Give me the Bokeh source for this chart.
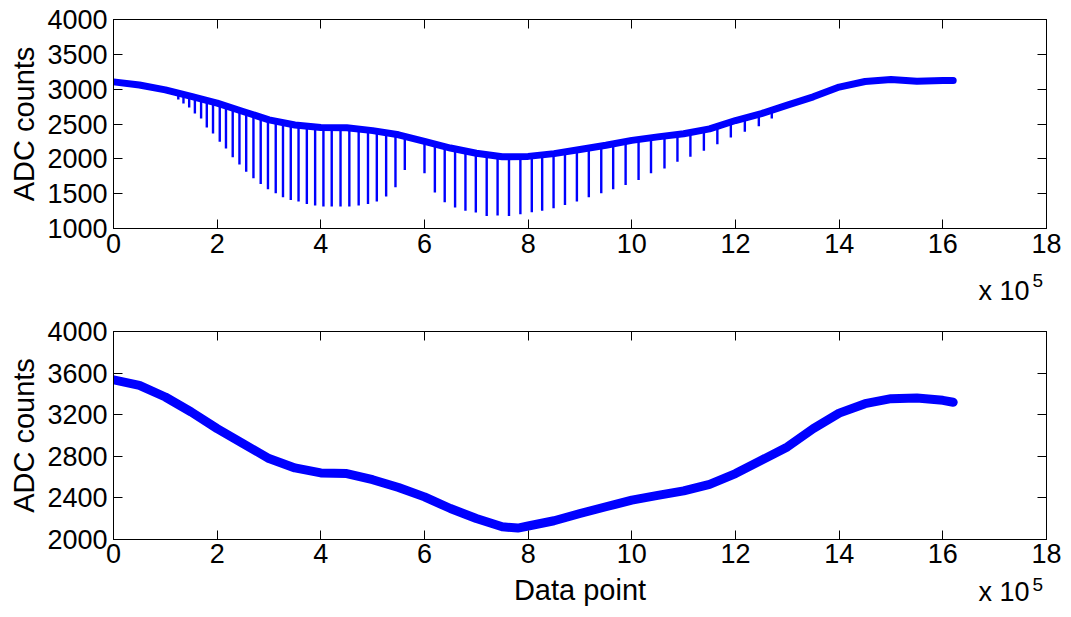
import numpy as np
from bokeh.plotting import figure
from bokeh.models import Range1d, LinearAxis, FixedTicker, Label
from bokeh.layouts import column
from bokeh.embed import file_html
from bokeh.resources import INLINE

# ---------------- data (x in units of 1e5 data points) ----------------
top_x = [0, 0.5, 1, 1.5, 2, 2.5, 3, 3.5, 4, 4.5, 5, 5.5, 6, 6.5, 7, 7.5, 8, 8.5,
         9, 9.5, 10, 10.5, 11, 11.5, 12, 12.5, 13, 13.5, 14, 14.5, 15, 15.5, 16, 16.2]
top_y = [3105, 3060, 2990, 2895, 2800, 2680, 2560, 2485, 2450, 2445, 2405, 2345, 2250,
         2155, 2080, 2030, 2035, 2075, 2135, 2195, 2265, 2315, 2360, 2430, 2550, 2650,
         2770, 2890, 3030, 3110, 3140, 3115, 3125, 3125]

spike_x = [1.25, 1.35, 1.46, 1.57, 1.69, 1.80, 1.92, 2.05, 2.17, 2.30, 2.43, 2.56, 2.70,
           2.84, 2.98, 3.13, 3.27, 3.42, 3.57, 3.73, 3.89, 4.05, 4.21, 4.38, 4.55, 4.73,
           4.91, 5.08, 5.26, 5.44, 5.62, 6.00, 6.20, 6.39, 6.59, 6.79, 6.99, 7.20, 7.41,
           7.63, 7.85, 8.07, 8.27, 8.49, 8.71, 8.94, 9.17, 9.41, 9.64, 9.88, 10.13, 10.37,
           10.63, 10.88, 11.13, 11.39, 11.65, 11.91, 12.18, 12.45, 12.70]
spike_min = [2851, 2793, 2736, 2650, 2579, 2450, 2364, 2245, 2150, 2021, 1920, 1815, 1720,
             1639, 1563, 1506, 1449, 1410, 1386, 1353, 1329, 1315, 1315, 1315, 1315, 1329,
             1353, 1386, 1458, 1591, 1840, 1792, 1515, 1377, 1300, 1253, 1229, 1181, 1186,
             1181, 1205, 1234, 1253, 1291, 1339, 1386, 1449, 1506, 1563, 1625, 1697, 1792,
             1863, 1959, 2030, 2116, 2211, 2307, 2388, 2469, 2579]

bot_x = [0, 0.5, 1, 1.5, 2, 2.5, 3, 3.5, 4, 4.5, 5, 5.5, 6, 6.5, 7, 7.5, 7.8, 8, 8.5,
         9, 9.5, 10, 10.5, 11, 11.5, 12, 12.5, 13, 13.5, 14, 14.5, 15, 15.5, 16, 16.2]
bot_y = [3535, 3482, 3370, 3226, 3066, 2922, 2778, 2688, 2640, 2634, 2575, 2500, 2410,
         2298, 2202, 2122, 2110, 2130, 2180, 2250, 2315, 2378, 2425, 2467, 2530, 2634,
         2762, 2890, 3066, 3215, 3306, 3354, 3360, 3338, 3320]

x_ticks = [0, 2, 4, 6, 8, 10, 12, 14, 16, 18]
top_yticks = [1000, 1500, 2000, 2500, 3000, 3500, 4000]
bot_yticks = [2000, 2400, 2800, 3200, 3600, 4000]

FONT = "Liberation Sans"
TICK_FS = "27px"
LABEL_FS = "29px"
BLUE = "#0000ff"
W = 1071


def style_axis(ax, ticks, labels=True):
    ax.ticker = FixedTicker(ticks=ticks)
    ax.axis_line_color = "black"
    ax.axis_line_width = 1
    ax.major_tick_line_color = "black"
    ax.major_tick_line_width = 1
    ax.major_tick_in = 9
    ax.major_tick_out = 0
    ax.minor_tick_line_color = None
    ax.major_label_text_font = FONT
    ax.major_label_text_color = "black"
    if labels:
        ax.major_label_text_font_size = TICK_FS
    else:
        ax.major_label_text_font_size = "0px"
        ax.major_label_standoff = 0
        ax.major_label_overrides = {t: "" for t in ticks}


def make_fig(height, ymin, ymax, yticks, top_border, bottom_border, xstand=5):
    p = figure(width=W, height=height, output_backend="svg", toolbar_location=None,
               title=None, x_range=Range1d(0, 18), y_range=Range1d(ymin, ymax),
               min_border_left=113, min_border_right=25,
               min_border_top=top_border, min_border_bottom=bottom_border)
    p.xgrid.visible = False
    p.ygrid.visible = False
    p.outline_line_color = "black"
    p.outline_line_width = 1
    p.background_fill_color = "white"
    p.border_fill_color = "white"
    xa = p.below[0]
    ya = p.left[0]
    style_axis(xa, x_ticks)
    style_axis(ya, yticks)
    xa.major_label_standoff = xstand
    ya.major_label_standoff = 6
    ya.axis_label = "ADC counts"
    ya.axis_label_text_font = FONT
    ya.axis_label_text_font_size = LABEL_FS
    ya.axis_label_text_font_style = "normal"
    ya.axis_label_text_color = "black"
    ya.axis_label_standoff = 4
    top_ax = LinearAxis()
    style_axis(top_ax, x_ticks, labels=False)
    right_ax = LinearAxis()
    style_axis(right_ax, yticks, labels=False)
    p.add_layout(top_ax, "above")
    p.add_layout(right_ax, "right")
    return p


def make_strip(height):
    # a bare text strip below a panel; x in data units (frames aligned by the column),
    # y in pixels from the strip bottom
    s = figure(width=W, height=height, output_backend="svg", toolbar_location=None,
               title=None, x_range=Range1d(0, 18), y_range=Range1d(0, height),
               x_axis_location=None, y_axis_location=None,
               min_border_left=113, min_border_right=25,
               min_border_top=0, min_border_bottom=0)
    s.xgrid.visible = False
    s.ygrid.visible = False
    s.outline_line_color = None
    s.background_fill_color = "white"
    s.border_fill_color = "white"
    return s


def add_text(s, x, y, text, size, align="left"):
    s.add_layout(Label(x=x, y=y, text=text, text_font=FONT, text_font_size=size,
                       text_color="black", text_baseline="alphabetic", text_align=align))


# ---------------- top panel (frame y 19..228) ----------------
p1 = make_fig(265, 1000, 4000, top_yticks, 19, 37)
spike_top = np.interp(spike_x, top_x, top_y)
p1.segment(x0=spike_x, y0=spike_top, x1=spike_x, y1=spike_min,
           line_color=BLUE, line_width=2.4)
p1.line(top_x, top_y, line_color=BLUE, line_width=7, line_join="round", line_cap="round")

s1 = make_strip(41)          # page y 265..306
add_text(s1, 16.69, 15.4, "x 10", TICK_FS)
add_text(s1, 17.73, 25.6, "5", "19px")

# ---------------- bottom panel (frame y 331..539) ----------------
p2 = make_fig(267, 2000, 4000, bot_yticks, 25, 34, xstand=4)   # page y 306..573
p2.line(bot_x, bot_y, line_color=BLUE, line_width=9, line_join="round", line_cap="round")

s2 = make_strip(44)          # page y 573..617
add_text(s2, 9, 27.5, "Data point", LABEL_FS, align="center")
add_text(s2, 16.69, 25.7, "x 10", TICK_FS)
add_text(s2, 17.73, 33.1, "5", "19px")

layout = column(p1, s1, p2, s2, spacing=0)
open("out.html", "w").write(file_html(layout, INLINE))
